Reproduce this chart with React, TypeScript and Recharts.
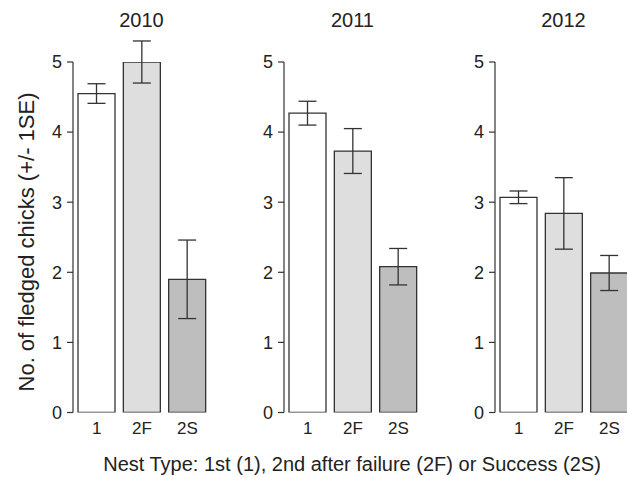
import { BarChart, Bar, XAxis, YAxis, ErrorBar, Cell } from "recharts";

const nestTypes = ["1", "2F", "2S"];
const years = ["2010", "2011", "2012"];
const means2010 = [4.55, 5.0, 1.9];
const se2010 = [0.14, 0.3, 0.56];
const means2011 = [4.27, 3.73, 2.08];
const se2011 = [0.17, 0.32, 0.26];
const means2012 = [3.07, 2.84, 1.99];
const se2012 = [0.09, 0.51, 0.25];
const yTicks = [0, 1, 2, 3, 4, 5];

const fills = ["#ffffff", "#dedede", "#bebebe"];
const ink = "#333333";
const font = "'Liberation Sans', Arial, sans-serif";

// x of each panel's y axis line on the page
const panelLeft = [73, 284, 495];
const plotW = 137;
const yAxisW = 40;

function Panel({ left, means, se }: { left: number; means: number[]; se: number[] }) {
  const data = nestTypes.map((t, i) => ({ type: t, mean: means[i], se: se[i] }));
  return (
    <div style={{ position: "absolute", left: left - yAxisW, top: 0 }}>
      <BarChart
        width={yAxisW + plotW + 5}
        height={477}
        data={data}
        margin={{ top: 62, right: 5, bottom: 0, left: 0 }}
        barCategoryGap={4}
      >
        <XAxis
          dataKey="type"
          axisLine={false}
          tickLine={false}
          height={64.5}
          padding={{ left: 1, right: 0 }}
          tickSize={6}
          tickMargin={3}
          fontSize={17}
          fontFamily={font}
          tick={{ fill: "#222", fontSize: 17, fontFamily: font }}
        />
        <YAxis
          type="number"
          domain={[0, 5]}
          ticks={yTicks}
          allowDataOverflow
          width={yAxisW}
          tickSize={6}
          tickMargin={5}
          fontSize={18}
          fontFamily={font}
          axisLine={{ stroke: ink, strokeWidth: 1.2 }}
          tickLine={{ stroke: ink, strokeWidth: 1.2 }}
          tick={{ fill: "#222", fontSize: 18, fontFamily: font }}
        />
        <Bar dataKey="mean" stroke={ink} strokeWidth={1.3} isAnimationActive={false}>
          {data.map((d, i) => (
            <Cell key={d.type} fill={fills[i]} />
          ))}
          <ErrorBar dataKey="se" width={9} stroke={ink} strokeWidth={1.3} direction="y" />
        </Bar>
      </BarChart>
    </div>
  );
}

export default function App() {
  const panels = [
    { means: means2010, se: se2010 },
    { means: means2011, se: se2011 },
    { means: means2012, se: se2012 },
  ];
  return (
    <div
      style={{
        position: "fixed",
        left: 0,
        top: 0,
        width: 627,
        height: 477,
        overflow: "hidden",
        background: "#fff",
      }}
    >
      {panels.map((p, i) => (
        <Panel key={years[i]} left={panelLeft[i]} means={p.means} se={p.se} />
      ))}
      <svg
        width={627}
        height={477}
        style={{ position: "absolute", left: 0, top: 0, pointerEvents: "none" }}
        fontFamily={font}
        fill="#222"
      >
        {years.map((y, i) => (
          <text key={y} x={panelLeft[i] + plotW / 2} y={27} textAnchor="middle" fontSize={20}>
            {y}
          </text>
        ))}
        <text transform="translate(34, 242) rotate(-90)" textAnchor="middle" fontSize={22}>
          No. of fledged chicks (+/- 1SE)
        </text>
        <text x={352} y={471} textAnchor="middle" fontSize={20}>
          Nest Type: 1st (1), 2nd after failure (2F) or Success (2S)
        </text>
      </svg>
    </div>
  );
}
